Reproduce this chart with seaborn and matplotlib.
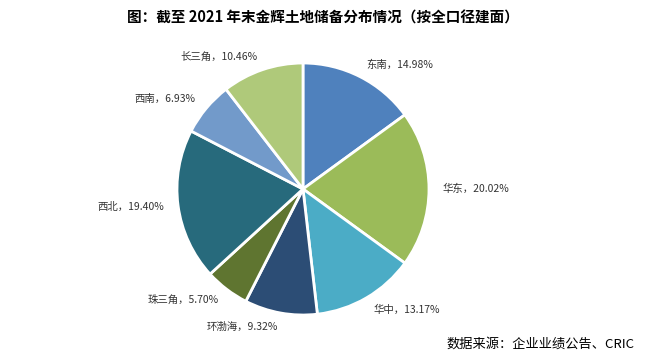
import matplotlib
matplotlib.use("Agg")
import matplotlib.pyplot as plt
import seaborn as sns

# 截至2021年末金辉土地储备分布（按全口径建面）
regions = ["东南", "华东", "华中", "环渤海", "珠三角", "西北", "西南", "长三角"]
shares = [14.98, 20.02, 13.17, 9.32, 5.70, 19.40, 6.93, 10.46]
colors = ["#4F81BD", "#9BBB59", "#4BACC6", "#2C4D75",
          "#5F7530", "#276A7C", "#729ACA", "#AFC97A"]

sns.set_theme(style="white")
plt.rcParams['font.family'] = ['Noto Sans CJK SC', 'DejaVu Sans']

fig = plt.figure(figsize=(6.45, 3.58), dpi=100)
ax = fig.add_axes([0.2744, 0.1201, 0.3907, 0.7039])

labels = [f"{r}，{v:.2f}%" for r, v in zip(regions, shares)]
wedges, texts = ax.pie(shares, labels=labels, colors=colors, startangle=90,
                       counterclock=False, labeldistance=1.11,
                       wedgeprops=dict(edgecolor="white", linewidth=2),
                       textprops=dict(fontsize=7.5, color="#333333"))
ax.set_xlim(-1, 1)
ax.set_ylim(-1, 1)
ax.set_aspect("equal")

fig.text(0.5, 0.952, "图：截至 2021 年末金辉土地储备分布情况（按全口径建面）",
         ha="center", va="center", fontsize=10.5, fontweight="bold", color="black")
fig.text(0.983, 0.04, "数据来源：企业业绩公告、CRIC", ha="right", va="center",
         fontsize=9.5, color="black")

fig.savefig("out.png", dpi=100, facecolor="white")
